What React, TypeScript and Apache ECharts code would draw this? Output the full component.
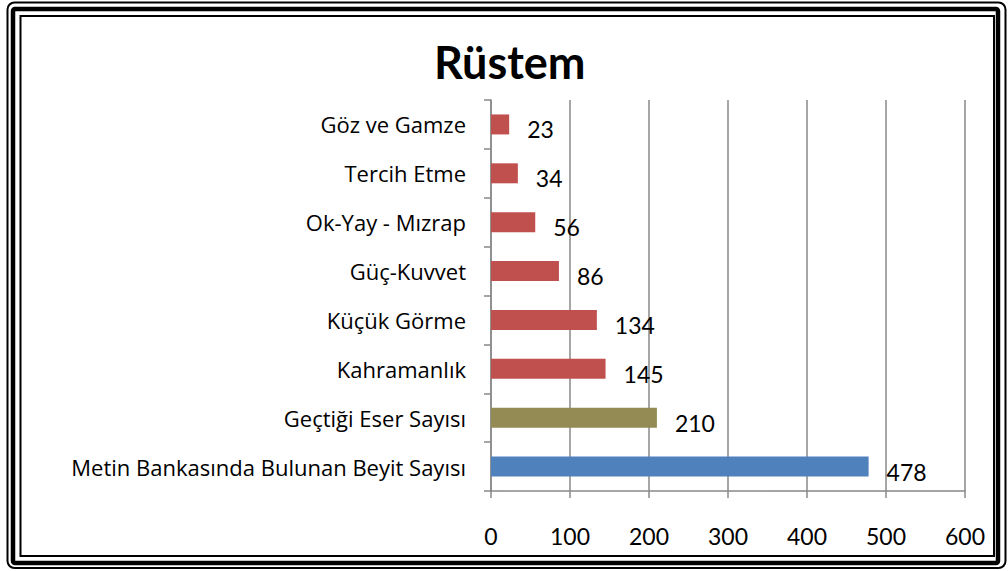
import React, { useEffect, useRef } from "react";
import * as echarts from "echarts";

const categories = [
  "Metin Bankasında Bulunan Beyit Sayısı",
  "Geçtiği Eser Sayısı",
  "Kahramanlık",
  "Küçük Görme",
  "Güç-Kuvvet",
  "Ok-Yay - Mızrap",
  "Tercih Etme",
  "Göz ve Gamze",
];
const values = [478, 210, 145, 134, 86, 56, 34, 23];
const barColors = ["#4F81BD", "#948A54", "#C0504D", "#C0504D", "#C0504D", "#C0504D", "#C0504D", "#C0504D"];
const xTicks = [0, 100, 200, 300, 400, 500, 600];

const FONT = "Lato";
const CAT_FONT = "Open Sans";

export default function App() {
  const ref = useRef<HTMLDivElement>(null);
  useEffect(() => {
    if (!ref.current) return;
    const chart = echarts.init(ref.current, null, { renderer: "svg" });
    chart.setOption({
      animation: false,
      backgroundColor: "#ffffff",
      title: {
        text: "Rüstem",
        left: 429,
        top: 34,
        textStyle: { fontFamily: FONT, fontWeight: "bold", fontSize: 45, color: "#000" },
      },
      grid: { left: 491, right: 43, top: 100, bottom: 80, containLabel: false },
      xAxis: {
        type: "value",
        min: xTicks[0],
        max: xTicks[xTicks.length - 1],
        interval: 100,
        axisLine: { show: true, lineStyle: { color: "#888", width: 1.5 } },
        axisTick: { show: true, length: 7, lineStyle: { color: "#888", width: 1.5 } },
        splitLine: { show: true, lineStyle: { color: "#888", width: 1.5 } },
        axisLabel: { margin: 33, fontFamily: FONT, fontSize: 23, color: "#000" },
      },
      yAxis: {
        type: "category",
        data: categories,
        axisLine: { show: true, lineStyle: { color: "#888", width: 1.5 } },
        axisTick: { show: true, length: 7, lineStyle: { color: "#888", width: 1.5 } },
        axisLabel: { margin: 25, fontFamily: CAT_FONT, fontSize: 22, color: "#000" },
      },
      series: [
        {
          type: "bar",
          data: values.map((v, i) => ({ value: v, itemStyle: { color: barColors[i] } })),
          barWidth: 20,
          label: {
            show: true,
            position: "right",
            distance: 18,
            offset: [0, 5],
            fontFamily: FONT,
            fontSize: 23,
            color: "#000",
          },
        },
      ],
      graphic: [
        {
          type: "rect",
          shape: { x: 7.5, y: 2.5, width: 998, height: 565.5, r: 7 },
          style: { fill: "none", stroke: "#000", lineWidth: 2 },
          silent: true,
        },
        {
          type: "rect",
          shape: { x: 13, y: 9, width: 985, height: 554, r: 2 },
          style: { fill: "none", stroke: "#000", lineWidth: 4.5 },
          silent: true,
        },
        {
          type: "rect",
          shape: { x: 20.5, y: 16, width: 973.5, height: 540 },
          style: { fill: "none", stroke: "#000", lineWidth: 2 },
          silent: true,
        },
      ],
    });
    return () => chart.dispose();
  }, []);
  return (
    <div
      ref={ref}
      style={{ position: "absolute", left: 0, top: 0, width: 1008, height: 571 }}
    />
  );
}
